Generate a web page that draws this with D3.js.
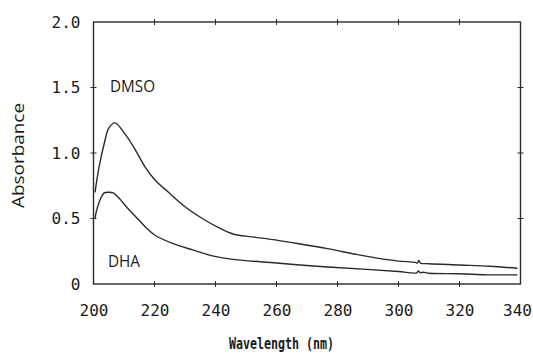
<!DOCTYPE html>
<html><head><meta charset="utf-8">
<script src="https://cdn.jsdelivr.net/npm/d3@7"></script>
<style>body{margin:0;background:#fff}</style>
</head><body>
<svg id="c" width="533" height="354"></svg>
<script>
const xTicks = [200,220,240,260,280,300,320,340];
const yTicks = [0,0.5,1.0,1.5,2.0];
const yTickLabels = ["0","0.5","1.0","1.5","2.0"];
const dmsoWl = [200.5,201.8,203.6,205,207,210.5,213.8,217,220.3,224.6,230,235.7,241,246,252,260,268,276.7,287.5,295,300,305.5,306.2,306.6,307.2,310,320.3,330,339];
const dmsoAbs = [0.70,0.89,1.08,1.19,1.23,1.14,1.02,0.89,0.79,0.70,0.59,0.50,0.43,0.38,0.36,0.335,0.305,0.27,0.22,0.19,0.175,0.165,0.16,0.18,0.16,0.155,0.145,0.135,0.12];
const dhaWl = [200.5,201,202.5,203.5,205,206.5,208.2,211.5,214.8,217.7,220.3,225.9,232.5,239,245,260,276.7,290.8,300,306,306.5,307.2,308,310,320,329,339];
const dhaAbs = [0.50,0.56,0.66,0.695,0.70,0.695,0.66,0.57,0.49,0.42,0.37,0.31,0.26,0.215,0.19,0.16,0.13,0.11,0.095,0.085,0.10,0.085,0.09,0.082,0.078,0.07,0.07];

const svg = d3.select("#c");
const x = d3.scaleLinear().domain([200,340]).range([93.5,520.5]);
const y = d3.scaleLinear().domain([0,2]).range([284,22]);
const ink = "#2a2a2a";

svg.append("rect").attr("x",93.5).attr("y",22).attr("width",427).attr("height",262)
  .attr("fill","none").attr("stroke",ink).attr("stroke-width",1.4);

const gx = svg.append("g").attr("transform","translate(0,284)")
  .call(d3.axisBottom(x).tickValues(xTicks).tickSize(0).tickPadding(21).tickFormat(d3.format("d")));
const gy = svg.append("g").attr("transform","translate(93.5,0)")
  .call(d3.axisLeft(y).tickValues(yTicks).tickSize(0).tickPadding(13).tickFormat((d,i)=>yTickLabels[i]));
[gx,gy].forEach(g=>{
  g.select(".domain").remove();
  g.selectAll("text").attr("font-family","'DejaVu Sans Mono', monospace").attr("font-size",16).attr("fill","#1a1a1a");
});
gx.selectAll(".tick").filter(d=>d===340).select("text").attr("text-anchor","end").attr("dx",11);
xTicks.slice(1,-1).forEach(t=>{
  svg.append("line").attr("x1",x(t)).attr("x2",x(t)).attr("y1",281).attr("y2",287).attr("stroke",ink).attr("stroke-width",1);
  svg.append("line").attr("x1",x(t)).attr("x2",x(t)).attr("y1",19).attr("y2",25).attr("stroke",ink).attr("stroke-width",1);
});
yTicks.slice(1,-1).forEach(t=>{
  svg.append("line").attr("x1",90.5).attr("x2",96.5).attr("y1",y(t)).attr("y2",y(t)).attr("stroke",ink).attr("stroke-width",1);
  svg.append("line").attr("x1",517.5).attr("x2",523.5).attr("y1",y(t)).attr("y2",y(t)).attr("stroke",ink).attr("stroke-width",1);
});

const line = d3.line().x(d=>x(d[0])).y(d=>y(d[1])).curve(d3.curveCatmullRom.alpha(0.5));
svg.append("path").datum(d3.zip(dmsoWl,dmsoAbs)).attr("d",line)
  .attr("fill","none").attr("stroke",ink).attr("stroke-width",1.4);
svg.append("path").datum(d3.zip(dhaWl,dhaAbs)).attr("d",line)
  .attr("fill","none").attr("stroke",ink).attr("stroke-width",1.4);

svg.append("text").attr("x",110).attr("y",92).text("DMSO")
  .attr("font-family","'Open Sans', sans-serif").attr("font-size",17).attr("textLength",45).attr("lengthAdjust","spacingAndGlyphs").attr("fill","#1a1a1a");
svg.append("text").attr("x",108).attr("y",267).text("DHA")
  .attr("font-family","'Open Sans', sans-serif").attr("font-size",17).attr("textLength",32).attr("lengthAdjust","spacingAndGlyphs").attr("fill","#1a1a1a");

svg.append("text").attr("x",229).attr("y",349).text("Wavelength (nm)")
  .attr("font-family","'DejaVu Sans Mono', monospace").attr("font-size",16).attr("font-weight","bold")
  .attr("textLength",105).attr("lengthAdjust","spacingAndGlyphs").attr("fill","#1a1a1a");
svg.append("text").attr("transform","translate(24,208) rotate(-90)").text("Absorbance")
  .attr("font-family","'Open Sans', sans-serif").attr("font-size",17)
  .attr("textLength",105).attr("lengthAdjust","spacingAndGlyphs").attr("fill","#1a1a1a");
</script>
</body></html>
